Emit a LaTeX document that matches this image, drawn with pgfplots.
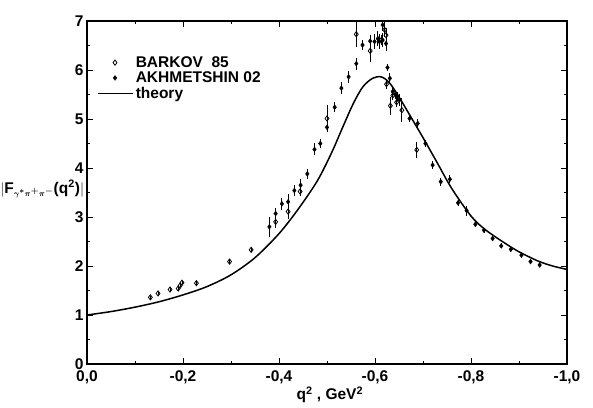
\documentclass[border=0pt]{standalone}
\usepackage{amsmath}
\usepackage{fontspec}
\setmainfont{Liberation Sans}
\usepackage{pgfplots}
\pgfplotsset{compat=1.18}
\usepackage{pgfplotstable}

\pgfplotsset{
  markleg/.style={legend image code/.code={\draw[mark repeat=2,mark phase=2,##1] plot coordinates {(0pt,0pt) (17pt,0pt) (35pt,0pt)};}},
  lineleg/.style={legend image code/.code={\draw[##1] (0pt,0pt) -- (35pt,0pt);}},
}

\pgfplotstableread{
x y ey
-0.132 1.36 0.03
-0.148 1.44 0.03
-0.173 1.52 0.03
-0.190 1.54 0.03
-0.194 1.60 0.03
-0.198 1.66 0.03
-0.228 1.65 0.04
-0.297 2.09 0.05
-0.342 2.33 0.05
-0.393 2.90 0.12
-0.419 3.11 0.15
-0.444 3.52 0.10
-0.500 5.01 0.28
-0.561 6.73 0.27
-0.590 6.39 0.22
-0.613 6.61 0.10
-0.620 6.82 0.15
-0.623 6.71 0.15
-0.624 5.71 0.10
-0.632 5.27 0.18
-0.637 5.48 0.10
-0.645 5.34 0.10
-0.656 5.18 0.24
-0.687 4.37 0.17
}\barkov

\pgfplotstableread{
x y ey
-0.380 2.80 0.20
-0.393 3.07 0.12
-0.406 3.27 0.12
-0.419 3.31 0.15
-0.432 3.54 0.12
-0.445 3.65 0.12
-0.459 3.88 0.10
-0.474 4.38 0.12
-0.486 4.50 0.10
-0.500 4.83 0.10
-0.516 5.24 0.10
-0.530 5.63 0.12
-0.545 5.86 0.12
-0.561 6.13 0.12
-0.574 6.51 0.10
-0.590 6.59 0.12
-0.599 6.58 0.15
-0.606 6.64 0.15
-0.609 6.58 0.15
-0.616 6.61 0.15
-0.616 6.92 0.12
-0.623 6.54 0.15
-0.626 6.05 0.08
-0.631 5.83 0.10
-0.637 5.56 0.10
-0.642 5.50 0.10
-0.647 5.46 0.10
-0.651 5.39 0.12
-0.672 5.01 0.08
-0.689 4.91 0.08
-0.705 4.50 0.08
-0.720 4.06 0.08
-0.737 3.72 0.08
-0.756 3.77 0.08
-0.773 3.29 0.06
-0.791 3.13 0.10
-0.809 2.85 0.06
-0.827 2.73 0.05
-0.845 2.56 0.06
-0.863 2.41 0.05
-0.883 2.34 0.06
-0.905 2.22 0.06
-0.924 2.09 0.05
-0.943 2.02 0.05
}\akhm

\pgfplotstableread{
x y
0.00 1.00
-0.05 1.07
-0.10 1.16
-0.15 1.27
-0.20 1.41
-0.25 1.58
-0.30 1.82
-0.35 2.17
-0.40 2.66
-0.44 3.16
-0.48 3.74
-0.51 4.32
-0.53 4.77
-0.555 5.32
-0.575 5.66
-0.595 5.83
-0.613 5.86
-0.63 5.74
-0.65 5.45
-0.67 5.12
-0.70 4.62
-0.73 4.10
-0.76 3.58
-0.80 3.02
-0.83 2.74
-0.87 2.47
-0.90 2.29
-0.94 2.10
-0.97 2.00
-1.00 1.93
}\theory

\begin{document}
\begin{tikzpicture}
\begin{axis}[
  scale only axis,
  width=480pt, height=343pt,
  x dir=reverse,
  xmin=-1, xmax=0, ymin=0, ymax=7,
  xtick={0,-0.2,-0.4,-0.6,-0.8,-1.0},
  xticklabels={{0,0},{-0,2},{-0,4},{-0,6},{-0,8},{-1,0}},
  ytick={0,1,2,3,4,5,6,7},
  minor x tick num=1, minor y tick num=1,
  tick align=inside, xtick pos=both, ytick pos=both,
  major tick length=6pt, minor tick length=3pt,
  axis line style={line width=1.3pt},
  every tick/.style={black, line width=0.9pt},
  /pgf/number format/assume math mode=true,
  tick label style={font=\fontsize{15.5}{18}\selectfont\bfseries},
  xticklabel style={yshift=-3pt},
  xlabel={q$^{\mathbf{2}}$ , GeV$^{\mathbf{2}}$},
  every axis x label/.style={at={(axis description cs:0.506,-0.09)}, anchor=center,
    font=\fontsize{15.5}{18}\selectfont\bfseries},
  ylabel={$|$F$_{\scriptscriptstyle\boldsymbol{\gamma^*\pi^+\pi^-}}$(q$^{\mathbf{2}}$)$|$},
  every axis y label/.style={at={(axis description cs:-0.181,0.51)}, anchor=west, rotate=0, inner sep=0pt,
    font=\fontsize{15.5}{18}\selectfont\bfseries},
  legend style={draw=none, fill=none, at={(axis description cs:0.021,0.903)}, anchor=north west,
    font=\fontsize{15.5}{18}\selectfont\bfseries, inner sep=0pt, row sep=-1pt,
    /tikz/every even column/.append style={column sep=6pt}},
  legend cell align=left,
]
\addplot[only marks, mark=diamond, mark size=2.6pt, mark options={line width=0.8pt, fill=white},
  markleg,
  error bars/.cd, y dir=both, y explicit, error bar style={line width=0.9pt}, error mark=none]
  table[x=x, y=y, y error=ey] {\barkov};
\addlegendentry{BARKOV~~85}
\addplot[only marks, mark=diamond*, mark size=2.4pt, black,
  markleg,
  error bars/.cd, y dir=both, y explicit, error bar style={line width=0.9pt}, error mark=none]
  table[x=x, y=y, y error=ey] {\akhm};
\addlegendentry{AKHMETSHIN 02}
\addplot[black, line width=1.5pt, smooth, no marks, lineleg] table[x=x, y=y] {\theory};
\addlegendentry{theory}
\end{axis}
\pgfresetboundingbox
\path (current axis.south west) ++(-87pt,-44pt) coordinate (bl);
\path (current axis.north east) ++(26pt,21pt) coordinate (tr);
\path[use as bounding box] (bl) rectangle (tr);
\end{tikzpicture}
\end{document}
